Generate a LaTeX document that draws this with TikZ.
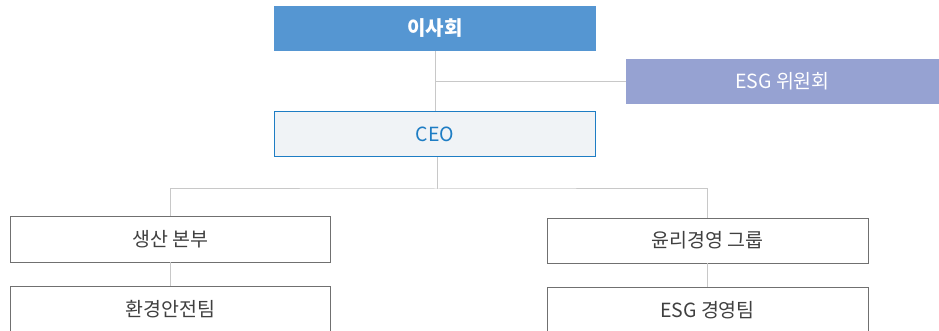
\documentclass[tikz,border=0pt]{standalone}
\usepackage{fontspec}
\setmainfont{Noto Sans CJK KR}
\definecolor{boardblue}{HTML}{5596D2}
\definecolor{esgpurple}{HTML}{96A2D2}
\definecolor{ceofill}{HTML}{F0F3F6}
\definecolor{ceoblue}{HTML}{1E7DC4}
\definecolor{linegray}{HTML}{C8C8C8}
\definecolor{boxgray}{HTML}{707070}
\definecolor{textgray}{HTML}{404040}
\begin{document}
\begin{tikzpicture}[x=1pt,y=-1pt,
  orgbox/.style={draw=boxgray, line width=0.9pt, fill=white, text=textgray, font=\fontsize{19.5}{23}\selectfont, inner sep=0pt},
  conn/.style={draw=linegray, line width=1pt}]
\useasboundingbox (0,0) rectangle (939,331);
% top boxes
\node[fill=boardblue, text=white, font=\fontsize{20}{24}\selectfont\bfseries, minimum width=322pt, minimum height=45pt, inner sep=0pt] (board) at (435,28.5) {이사회};
\node[fill=esgpurple, text=white, font=\fontsize{19.5}{23}\selectfont, minimum width=313pt, minimum height=45pt, inner sep=0pt] (esg) at (782.5,81.5) {ESG 위원회};
\node[draw=ceoblue, line width=1pt, fill=ceofill, text=ceoblue, font=\fontsize{19.5}{23}\selectfont, minimum width=321pt, minimum height=45pt, inner sep=0pt] (ceo) at (435,134.5) {CEO};
% connectors
\coordinate (j1) at (435,81.5);
\draw[conn] (board.south) -- (ceo.north);
\draw[conn] (j1) -- (esg.west);
% lower boxes
\node[orgbox, minimum width=320pt, minimum height=46pt] (prod) at (170.5,239) {생산 본부};
\node[orgbox, minimum width=320pt, minimum height=46pt] (env) at (170.5,309) {환경안전팀};
\node[orgbox, minimum width=321pt, minimum height=45pt] (ethic) at (707.5,240.5) {윤리경영 그룹};
\node[orgbox, minimum width=321pt, minimum height=46pt] (esgteam) at (707.5,310) {ESG 경영팀};
\coordinate (bus) at (437,189);
\draw[conn] (ceo.south -| bus) -- (bus);
\draw[conn] (prod.north) |- (bus) -| (ethic.north);
\draw[conn] (prod.south) -- (env.north);
\draw[conn] (ethic.south) -- (esgteam.north);
\end{tikzpicture}
\end{document}
